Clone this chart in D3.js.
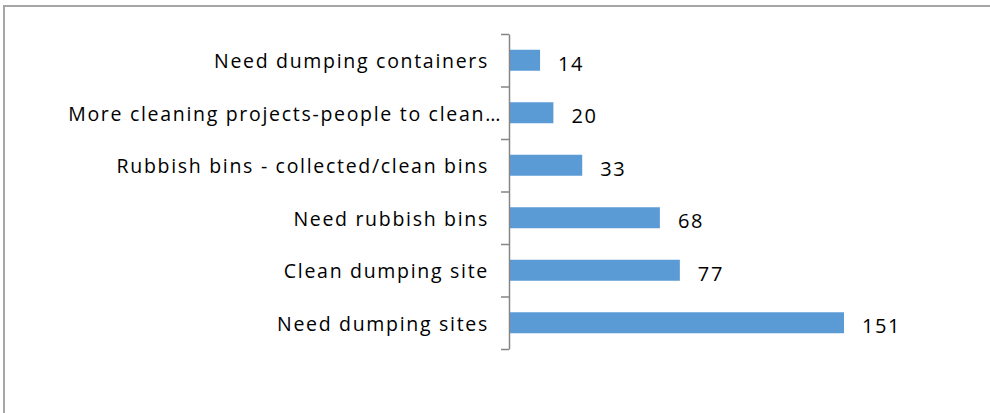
<!DOCTYPE html>
<html>
<head>
<meta charset="utf-8">
<script src="https://cdn.jsdelivr.net/npm/d3@7"></script>
<style>
  body { margin: 0; background: #fff; }
  text { font-family: "Open Sans", Lato, sans-serif; fill: #000; }
</style>
</head>
<body>
<svg id="chart" width="990" height="413"></svg>
<script>
'use strict'

// categories top to bottom, with their counts
const categories = [
  'Need dumping containers',
  'More cleaning projects-people to clean\u2026',
  'Rubbish bins - collected/clean bins',
  'Need rubbish bins',
  'Clean dumping site',
  'Need dumping sites'
]
const counts = [14, 20, 33, 68, 77, 151]

const margin = { top: 34, left: 509, right: 126, bottom: 64 }
const width = 990
const height = 413

const svg = d3.select('#chart')

// outer frame (only top and left edges fall inside the window)
svg.append('rect')
  .attr('x', 4)
  .attr('y', 6)
  .attr('width', 1200)
  .attr('height', 600)
  .attr('fill', 'none')
  .attr('stroke', '#a6a6a6')
  .attr('stroke-width', 2)

const plotH = height - margin.top - margin.bottom

const x = d3.scaleLinear()
  .domain([0, 160])
  .range([margin.left, width - margin.right])

const y = d3.scaleBand()
  .domain(categories)
  .range([margin.top, margin.top + plotH])
  .paddingInner(0.6)
  .paddingOuter(0.3)

// edges between categories, for the tick marks
const yEdge = d3.scaleLinear()
  .domain([0, categories.length])
  .range([margin.top, margin.top + plotH])

const g = svg.append('g')

g.selectAll('rect.bar')
  .data(categories)
  .enter()
  .append('rect')
  .attr('class', 'bar')
  .attr('x', x(0))
  .attr('y', d => y(d))
  .attr('width', (d, i) => x(counts[i]) - x(0))
  .attr('height', y.bandwidth())
  .attr('fill', '#5b9bd5')

// value labels
g.selectAll('text.val')
  .data(categories)
  .enter()
  .append('text')
  .attr('class', 'val')
  .attr('x', (d, i) => x(counts[i]) + 18)
  .attr('y', d => y(d) + y.bandwidth() / 2 + 3)
  .attr('dominant-baseline', 'central')
  .attr('font-size', '20px')
  .attr('letter-spacing', '1.6px')
  .text((d, i) => counts[i])

// axis line with ticks at category boundaries
const axis = svg.append('g')
  .attr('transform', 'translate(' + margin.left + ',0)')
  .call(d3.axisLeft(yEdge).ticks(categories.length).tickSize(8).tickSizeOuter(0).tickFormat(''))

axis.selectAll('path, line')
  .attr('stroke', '#868686')
  .attr('stroke-width', 1.5)

// category labels (the cut-off one runs closer to the axis, as Excel does)
svg.selectAll('text.cat')
  .data(categories)
  .enter()
  .append('text')
  .attr('class', 'cat')
  .attr('x', d => d.endsWith('\u2026') ? margin.left - 7 : margin.left - 20)
  .attr('y', d => y(d) + y.bandwidth() / 2 + 0.5)
  .attr('text-anchor', 'end')
  .attr('dominant-baseline', 'central')
  .attr('font-size', '19.5px')
  .attr('letter-spacing', '1.7px')
  .text(d => d)
</script>
</body>
</html>
